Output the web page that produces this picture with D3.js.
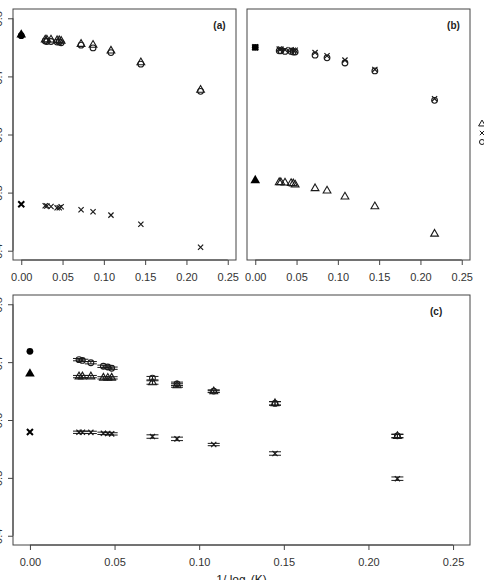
<!DOCTYPE html>
<html><head><meta charset="utf-8">
<script src="https://cdn.jsdelivr.net/npm/d3@7"></script>
<style>body{margin:0;background:#fff}svg{display:block}</style>
</head><body>
<script>
// ---- data ----
const xVals = [0.029, 0.031, 0.036, 0.0434, 0.046, 0.0483, 0.0724, 0.0869, 0.1086, 0.1448, 0.2171];
const xTicks = [0.00, 0.05, 0.10, 0.15, 0.20, 0.25];
const yTicks = [0.4, 0.5, 0.6, 0.7, 0.8];

// panel (a)
const aTri  = [0.763, 0.763, 0.763, 0.762, 0.762, 0.761, 0.7556, 0.754, 0.744, 0.724, 0.6766];
const aCirc = [0.761, 0.760, 0.760, 0.759, 0.759, 0.758, 0.7538, 0.749, 0.741, 0.721, 0.6743];
const aX    = [0.4773, 0.477, 0.476, 0.4738, 0.474, 0.4756, 0.4704, 0.467, 0.4612, 0.4456, 0.4059];
const aLim  = {tri: 0.7717, circ: 0.770, x: 0.480};

// panel (b)
const bTri  = [0.5176, 0.5175, 0.517, 0.516, 0.5155, 0.5136, 0.5072, 0.5032, 0.4928, 0.476, 0.4289];
const bCirc = [0.744, 0.744, 0.743, 0.743, 0.742, 0.742, 0.7366, 0.732, 0.723, 0.7094, 0.6588];
const bX    = [0.747, 0.747, 0.746, 0.746, 0.745, 0.745, 0.741, 0.7355, 0.728, 0.712, 0.6617];
const bLim  = {tri: 0.521, circ: 0.750, x: 0.750};

// panel (c)
const cTri  = [0.675, 0.675, 0.675, 0.6728, 0.6725, 0.6728, 0.6648, 0.6596, 0.6493, 0.6287, 0.5720];
const cCirc = [0.7043, 0.703, 0.699, 0.6928, 0.6916, 0.6895, 0.6723, 0.6625, 0.650, 0.6287, 0.5726];
const cX    = [0.5788, 0.5788, 0.5786, 0.577, 0.5767, 0.576, 0.5714, 0.5674, 0.5576, 0.5421, 0.4986];
const cErr  = [0.002, 0.002, 0.002, 0.002, 0.002, 0.002, 0.003, 0.003, 0.002, 0.003, 0.003];
const cLim  = {tri: 0.680, circ: 0.7187, x: 0.5794};

const panelLabels = ["(a)", "(b)", "(c)"];
const xTitle = ["1/ log", "e", "(K)"];

// ---- drawing ----
const W = 484, H = 580;
const svg = d3.select("body").append("svg").attr("width", W).attr("height", H)
  .style("font-family", "Liberation Sans, Arial, sans-serif");

const axisCol = "#444", ptCol = "#1a1a1a";

const symTri = d3.symbol().type(d3.symbolTriangle);
const symCirc = d3.symbol().type(d3.symbolCircle);
function xPath(s){ return `M${-s},${-s}L${s},${s}M${-s},${s}L${s},${-s}`; }

function panel(box, opts){
  const x = d3.scaleLinear().domain([-0.01, 0.26]).range([box.l, box.r]);
  const y = d3.scaleLinear().domain([0.384, 0.816]).range([box.b, box.t]);
  const g = svg.append("g");
  g.append("rect").attr("x", box.l).attr("y", box.t).attr("width", box.r - box.l).attr("height", box.b - box.t)
    .attr("fill", "none").attr("stroke", axisCol).attr("stroke-width", 1);
  // x axis
  const xa = g.append("g").attr("transform", `translate(0,${box.b})`)
    .call(d3.axisBottom(x).tickValues(xTicks).tickFormat(d3.format(".2f")).tickSize(5).tickPadding(8));
  xa.select(".domain").attr("stroke", axisCol).attr("d", `M${x(0)},0H${x(0.25)}`);
  xa.selectAll(".tick line").attr("stroke", axisCol);
  xa.selectAll("text").attr("font-size", 11).attr("fill", "#333").attr("font-family", "Liberation Sans, Arial, sans-serif");
  // y axis
  if (opts.yaxis){
    const ya = g.append("g").attr("transform", `translate(${box.l},0)`)
      .call(d3.axisLeft(y).tickValues(yTicks).tickFormat(d3.format(".1f")).tickSize(5).tickPadding(0));
    ya.select(".domain").attr("stroke", axisCol).attr("d", `M0,${y(0.4)}V${y(0.8)}`);
    ya.selectAll(".tick line").attr("stroke", axisCol);
    ya.selectAll("text").attr("font-size", 11).attr("fill", "#333")
      .attr("font-family", "Liberation Sans, Arial, sans-serif")
      .attr("text-anchor", "middle").attr("x", 0).attr("dy", null)
      .attr("transform", `translate(${-box.l + 2},0) rotate(-90)`).attr("y", 0);
  }
  // label
  g.append("text").attr("x", x(0.24)).attr("y", box.t + 20).attr("text-anchor", "middle")
    .attr("font-size", 10).attr("font-weight", "bold").attr("fill", "#222").text(opts.label);

  const pts = g.append("g");
  // error bars
  if (opts.err){
    [opts.tri, opts.circ, opts.x].forEach(arr => {
      arr.forEach((v, i) => {
        const e = opts.err[i], cx = x(xVals[i]);
        [v - e, v + e].forEach(yy => {
          pts.append("line").attr("x1", cx - 6).attr("x2", cx + 6)
            .attr("y1", y(yy)).attr("y2", y(yy)).attr("stroke", ptCol).attr("stroke-width", 1);
        });
        pts.append("line").attr("x1", cx).attr("x2", cx).attr("y1", y(v - e)).attr("y2", y(v + e))
          .attr("stroke", ptCol).attr("stroke-width", 1);
      });
    });
  }
  // open triangles
  pts.selectAll(null).data(opts.tri).join("path")
    .attr("d", symTri.size(26)()).attr("transform", (d, i) => `translate(${x(xVals[i])},${y(d)})`)
    .attr("fill", "none").attr("stroke", ptCol).attr("stroke-width", 1.1);
  // open circles
  pts.selectAll(null).data(opts.circ).join("path")
    .attr("d", symCirc.size(26)()).attr("transform", (d, i) => `translate(${x(xVals[i])},${y(d)})`)
    .attr("fill", "none").attr("stroke", ptCol).attr("stroke-width", 1.1);
  // crosses
  pts.selectAll(null).data(opts.x).join("path")
    .attr("d", xPath(2.6)).attr("transform", (d, i) => `translate(${x(xVals[i])},${y(d)})`)
    .attr("fill", "none").attr("stroke", ptCol).attr("stroke-width", 1.2);
  // limit points at x = 0 (filled)
  const lim = opts.lim;
  pts.append("path").attr("d", symCirc.size(36)()).attr("transform", `translate(${x(0)},${y(lim.circ)})`).attr("fill", "#000");
  pts.append("path").attr("d", symTri.size(40)()).attr("transform", `translate(${x(0)},${y(lim.tri)})`).attr("fill", "#000");
  pts.append("path").attr("d", xPath(3)).attr("transform", `translate(${x(0)},${y(lim.x)})`)
    .attr("stroke", "#000").attr("stroke-width", 2).attr("fill", "none");
  return {x, y};
}

panel({l: 13, r: 236, t: 9, b: 260}, {yaxis: true, label: panelLabels[0], tri: aTri, circ: aCirc, x: aX, lim: aLim});
panel({l: 247, r: 470, t: 9, b: 260}, {yaxis: false, label: panelLabels[1], tri: bTri, circ: bCirc, x: bX, lim: bLim});
const pc = panel({l: 13, r: 470, t: 295, b: 545}, {yaxis: true, label: panelLabels[2], tri: cTri, circ: cCirc, x: cX, lim: cLim, err: cErr});

// x-axis title (panel c), mostly cut off at the bottom
const tt = svg.append("text").attr("x", pc.x(0.125)).attr("y", 584).attr("text-anchor", "middle")
  .attr("font-size", 12).attr("fill", "#222");
tt.append("tspan").text(xTitle[0]);
tt.append("tspan").attr("font-size", 9).attr("dy", 4).text(xTitle[1]);
tt.append("tspan").attr("dy", -4).text(xTitle[2]);

// legend (cut off at the right edge)
const lg = svg.append("g");
const legY = [124, 133, 142];
lg.append("path").attr("d", symTri.size(20)()).attr("transform", `translate(482,${legY[0]})`).attr("fill", "none").attr("stroke", ptCol);
lg.append("path").attr("d", xPath(2.2)).attr("transform", `translate(482,${legY[1]})`).attr("fill", "none").attr("stroke", ptCol);
lg.append("path").attr("d", symCirc.size(20)()).attr("transform", `translate(482,${legY[2]})`).attr("fill", "none").attr("stroke", ptCol);
</script>
</body></html>
